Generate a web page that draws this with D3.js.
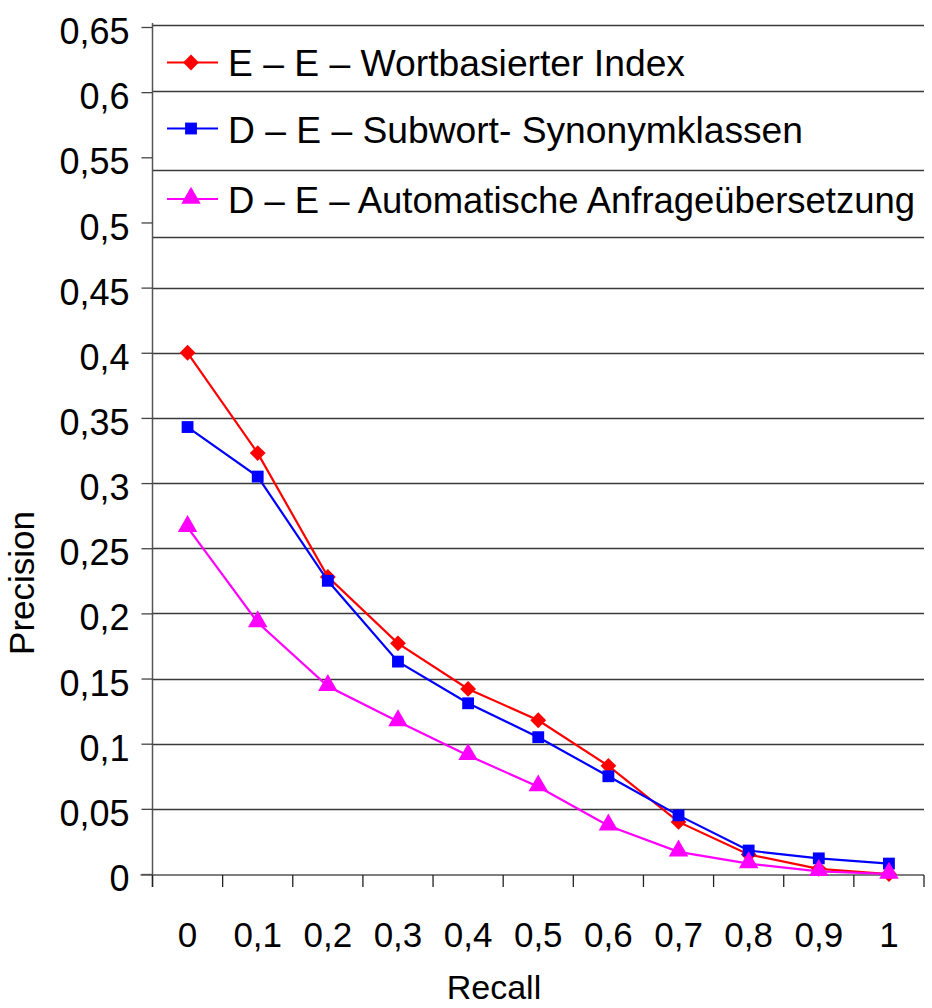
<!DOCTYPE html>
<html>
<head>
<meta charset="utf-8">
<script src="https://cdn.jsdelivr.net/npm/d3@7"></script>
<style>
  html, body { margin: 0; padding: 0; background: #fff; }
  svg { display: block; font-family: "Liberation Sans", Arial, sans-serif; }
</style>
</head>
<body>
<svg id="chart" width="932" height="1008"></svg>
<script>
// ---- data ----
const categories = ["0", "0,1", "0,2", "0,3", "0,4", "0,5", "0,6", "0,7", "0,8", "0,9", "1"];
const seriesNames = [
  "E – E – Wortbasierter Index",
  "D – E – Subwort- Synonymklassen",
  "D – E – Automatische Anfrageübersetzung"
];
const wortbasiert = [0.400, 0.323, 0.228, 0.177, 0.142, 0.118, 0.083, 0.040, 0.015, 0.004, 0.000];
const subwort     = [0.343, 0.305, 0.225, 0.163, 0.131, 0.105, 0.075, 0.045, 0.018, 0.012, 0.008];
const automatisch = [0.266, 0.193, 0.144, 0.117, 0.091, 0.067, 0.037, 0.017, 0.008, 0.002, 0.000];
const yTicks = [0, 0.05, 0.1, 0.15, 0.2, 0.25, 0.3, 0.35, 0.4, 0.45, 0.5, 0.55, 0.6, 0.65];
const gridValues = [0.05, 0.1, 0.15, 0.2, 0.25, 0.3, 0.35, 0.4, 0.45, 0.489, 0.54, 0.601, 0.6515];
const xTitle = "Recall";
const yTitle = "Precision";

// ---- layout ----
const svg = d3.select("#chart");
const pLeft = 152.5, pRight = 924, pTop = 27, pBottom = 874;
const colors = ["#ff0000", "#0000ff", "#ff00ff"];
const shapes = [d3.symbolSquare, d3.symbolSquare, d3.symbolTriangle];
const rotations = [45, 0, 0];
const sizes = [125, 140, 165];

const x = d3.scaleBand().domain(categories).range([pLeft, pRight]).paddingInner(0).paddingOuter(0);
const y = d3.scaleLinear().domain([0, 0.65]).range([pBottom, pTop]);
const fmt = v => String(+v.toFixed(2)).replace(".", ",");

// gridlines
svg.append("g").selectAll("line").data(gridValues).join("line")
  .attr("x1", pLeft).attr("x2", pRight)
  .attr("y1", d => Math.round(y(d)) + 0.5).attr("y2", d => Math.round(y(d)) + 0.5)
  .attr("stroke", "#3a3a3a").attr("stroke-width", 1.3);

// y axis
const yAxis = svg.append("g").attr("transform", `translate(${pLeft},0)`)
  .call(d3.axisLeft(y).tickValues(yTicks).tickFormat(fmt).tickSize(11).tickPadding(12));
yAxis.select(".domain").attr("stroke", "#555").attr("stroke-width", 1.5)
  .attr("d", `M0,${pTop - 4}V${pBottom + 13}`);
yAxis.selectAll(".tick line").attr("stroke", "#444").attr("stroke-width", 1.3);
yAxis.selectAll(".tick text").attr("font-size", 36).attr("fill", "#000")
  .attr("font-family", "Liberation Sans, Arial, sans-serif").attr("dy", "0.46em");

// x axis
const xAxis = svg.append("g").attr("transform", `translate(0,${pBottom + 1})`)
  .call(d3.axisBottom(x).tickSize(0).tickPadding(47));
xAxis.select(".domain").attr("stroke", "#555").attr("stroke-width", 1.5)
  .attr("d", `M${pLeft - 12},0H${pRight}`);
xAxis.selectAll(".tick text").attr("font-size", 35).attr("fill", "#000")
  .attr("font-family", "Liberation Sans, Arial, sans-serif");
const edges = categories.map(c => x(c)).concat([x(categories[categories.length - 1]) + x.bandwidth()]);
xAxis.append("g").selectAll("line").data(edges).join("line")
  .attr("x1", d => d).attr("x2", d => d).attr("y1", 0).attr("y2", 12)
  .attr("stroke", "#222").attr("stroke-width", 1.3);

// axis titles
svg.append("text").attr("x", 494).attr("y", 999).attr("text-anchor", "middle")
  .attr("font-size", 34).text(xTitle);
svg.append("text").attr("transform", "translate(34,583) rotate(-90)")
  .attr("text-anchor", "middle").attr("font-size", 35).text(yTitle);

// series
const series = [wortbasiert, subwort, automatisch];
const cx = c => x(c) + x.bandwidth() / 2;
const line = d3.line().x((d, i) => cx(categories[i])).y(d => y(d));
series.forEach((vals, s) => {
  const g = svg.append("g");
  g.append("path").datum(vals).attr("d", line).attr("fill", "none")
    .attr("stroke", colors[s]).attr("stroke-width", 2.2);
  g.selectAll("path.m").data(vals).join("path").attr("class", "m")
    .attr("transform", (d, i) => `translate(${cx(categories[i])},${y(d) + (s === 2 ? -1 : 0)}) rotate(${rotations[s]})`)
    .attr("d", d3.symbol().type(shapes[s]).size(sizes[s]))
    .attr("fill", colors[s]);
});

// legend
const legY = [62.5, 128.5, 199];
const legBase = [76, 143, 213];
const legLen = [457, 575, 687];
seriesNames.forEach((name, s) => {
  const g = svg.append("g");
  g.append("line").attr("x1", 167).attr("x2", 218).attr("y1", legY[s]).attr("y2", legY[s])
    .attr("stroke", colors[s]).attr("stroke-width", 2.2);
  g.append("path").attr("transform", `translate(191,${legY[s] + (s === 2 ? -1 : 0)}) rotate(${rotations[s]})`)
    .attr("d", d3.symbol().type(shapes[s]).size(sizes[s])).attr("fill", colors[s]);
  g.append("text").attr("x", 228).attr("y", legBase[s]).attr("font-size", 36)
    .attr("textLength", legLen[s]).attr("lengthAdjust", "spacingAndGlyphs").text(name);
});
</script>
</body>
</html>
